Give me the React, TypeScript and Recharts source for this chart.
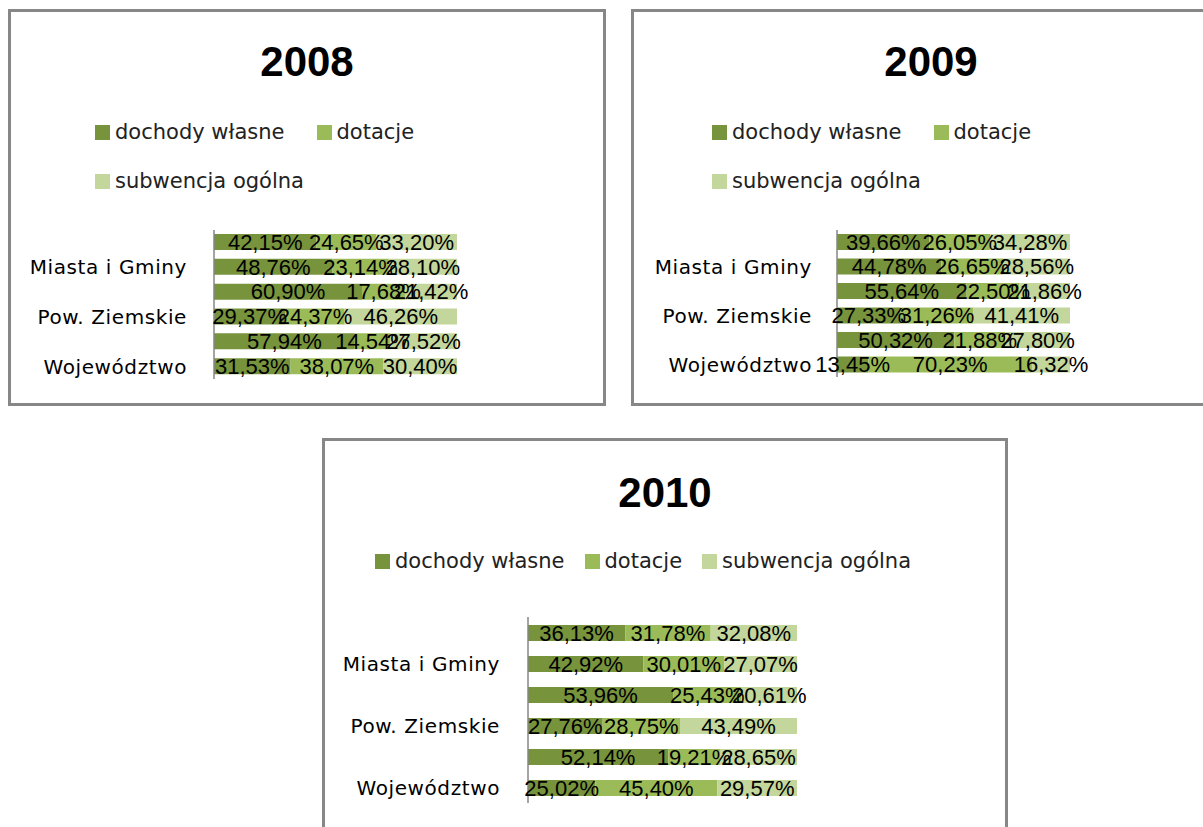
import React from "react";
import { BarChart, Bar, XAxis, YAxis, LabelList } from "recharts";

const rowLabels = ["", "Miasta i Gminy", "", "Pow. Ziemskie", "", "Województwo"];
const years = ["2008", "2009", "2010"];

const seriesNames = ["dochody własne", "dotacje", "subwencja ogólna"];
const seriesColors = ["#77933C", "#9BBB59", "#C3D69B"];

const dochody2008 = [42.15, 48.76, 60.9, 29.37, 57.94, 31.53];
const dotacje2008 = [24.65, 23.14, 17.68, 24.37, 14.54, 38.07];
const subwencja2008 = [33.2, 28.1, 21.42, 46.26, 27.52, 30.4];

const dochody2009 = [39.66, 44.78, 55.64, 27.33, 50.32, 13.45];
const dotacje2009 = [26.05, 26.65, 22.5, 31.26, 21.88, 70.23];
const subwencja2009 = [34.28, 28.56, 21.86, 41.41, 27.8, 16.32];

const dochody2010 = [36.13, 42.92, 53.96, 27.76, 52.14, 25.02];
const dotacje2010 = [31.78, 30.01, 25.43, 28.75, 19.21, 45.4];
const subwencja2010 = [32.08, 27.07, 20.61, 43.49, 28.65, 29.57];

const FONT = "'DejaVu Sans', sans-serif";
const LABEL_FONT = "'Liberation Sans', Arial, sans-serif";
const AXIS_GRAY = "#868686";
const YW = 220;

const buildRows = (a: number[], b: number[], c: number[]) =>
  rowLabels.map((_, i) => ({ id: "r" + i, d: a[i], t: b[i], s: c[i] }));

const fmt = (v: any) => Number(v).toFixed(2).replace(".", ",") + "%";

type PanelCfg = {
  box: { left: number; top: number; width: number; height: number };
  titleY: number;
  legend: { left: number; top: number; width: number; gap: number; rowGap: number };
  plot: { left: number; top: number; width: number; height: number; tickMargin: number };
};

const panels: PanelCfg[] = [
  {
    box: { left: 8, top: 9, width: 598, height: 397 },
    titleY: 62,
    legend: { left: 95, top: 122, width: 345, gap: 32, rowGap: 28 },
    plot: { left: 214, top: 229.5, width: 243, height: 149, tickMargin: 27 },
  },
  {
    box: { left: 631, top: 9, width: 600, height: 397 },
    titleY: 62,
    legend: { left: 712, top: 122, width: 345, gap: 32, rowGap: 28 },
    plot: { left: 837, top: 230, width: 233, height: 147, tickMargin: 25 },
  },
  {
    box: { left: 322, top: 438, width: 686, height: 420 },
    titleY: 493,
    legend: { left: 375, top: 551, width: 620, gap: 20, rowGap: 28 },
    plot: { left: 528, top: 616.5, width: 269, height: 186, tickMargin: 28 },
  },
];

const dataSets = [
  buildRows(dochody2008, dotacje2008, subwencja2008),
  buildRows(dochody2009, dotacje2009, subwencja2009),
  buildRows(dochody2010, dotacje2010, subwencja2010),
];

const keys = ["d", "t", "s"];

function Chart({ cfg, data, overlay }: { cfg: PanelCfg; data: any[]; overlay: boolean }) {
  const p = cfg.plot;
  return (
    <div style={{ position: "absolute", left: p.left - YW, top: p.top - 10 }}>
      <BarChart
        width={YW + p.width + 60}
        height={p.height + 20}
        layout="vertical"
        data={data}
        margin={{ top: 10, right: 60, bottom: 10, left: 0 }}
        barSize={16}
      >
        <XAxis type="number" domain={[0, 100]} hide />
        <YAxis
          type="category"
          dataKey="id"
          width={YW}
          interval={0}
          tickLine={false}
          tickSize={0}
          tickMargin={p.tickMargin}
          axisLine={overlay ? false : { stroke: AXIS_GRAY, strokeWidth: 1.5 }}
          tick={overlay ? false : { fill: "#000", fontSize: 20, fontFamily: FONT, letterSpacing: 0.6 }}
          tickFormatter={(_v: any, i: number) => rowLabels[i]}
        />
        {keys.map((k, i) => (
          <Bar
            key={k}
            dataKey={k}
            stackId="s"
            fill={seriesColors[i]}
            fillOpacity={overlay ? 0 : 1}
            isAnimationActive={false}
          >
            {overlay ? (
              <LabelList
                dataKey={k}
                position="center"
                formatter={fmt}
                fill="#000"
                fontSize={22}
                fontFamily={LABEL_FONT}
              />
            ) : null}
          </Bar>
        ))}
      </BarChart>
    </div>
  );
}

function Panel({ idx }: { idx: number }) {
  const cfg = panels[idx];
  const data = dataSets[idx];
  const b = cfg.box;
  const L = cfg.legend;
  return (
    <>
      <div
        style={{
          position: "absolute",
          left: b.left,
          top: b.top,
          width: b.width,
          height: b.height,
          border: "3px solid #878787",
          boxSizing: "border-box",
        }}
      />
      <div
        style={{
          position: "absolute",
          left: b.left,
          width: b.width,
          top: cfg.titleY - 21,
          height: 42,
          lineHeight: "42px",
          textAlign: "center",
          fontFamily: "'Liberation Sans', Arial, sans-serif",
          fontWeight: "bold",
          fontSize: 42,
          color: "#000",
        }}
      >
        {years[idx]}
      </div>
      <div
        style={{
          position: "absolute",
          left: L.left,
          top: L.top,
          width: L.width,
          display: "flex",
          flexWrap: "wrap",
          columnGap: L.gap,
          rowGap: L.rowGap,
        }}
      >
        {seriesNames.map((n, i) => (
          <div key={n} style={{ display: "flex", alignItems: "center", height: 21, whiteSpace: "nowrap" }}>
            <div style={{ width: 15, height: 15, background: seriesColors[i], marginRight: 5 }} />
            <span style={{ fontFamily: FONT, fontSize: 21, lineHeight: "21px", color: "#222" }}>{n}</span>
          </div>
        ))}
      </div>
      <Chart cfg={cfg} data={data} overlay={false} />
      <Chart cfg={cfg} data={data} overlay={true} />
    </>
  );
}

export default function App() {
  return (
    <div
      style={{
        position: "absolute",
        left: 0,
        top: 0,
        width: 1203,
        height: 827,
        overflow: "hidden",
        background: "#fff",
      }}
    >
      <Panel idx={0} />
      <Panel idx={1} />
      <Panel idx={2} />
    </div>
  );
}
